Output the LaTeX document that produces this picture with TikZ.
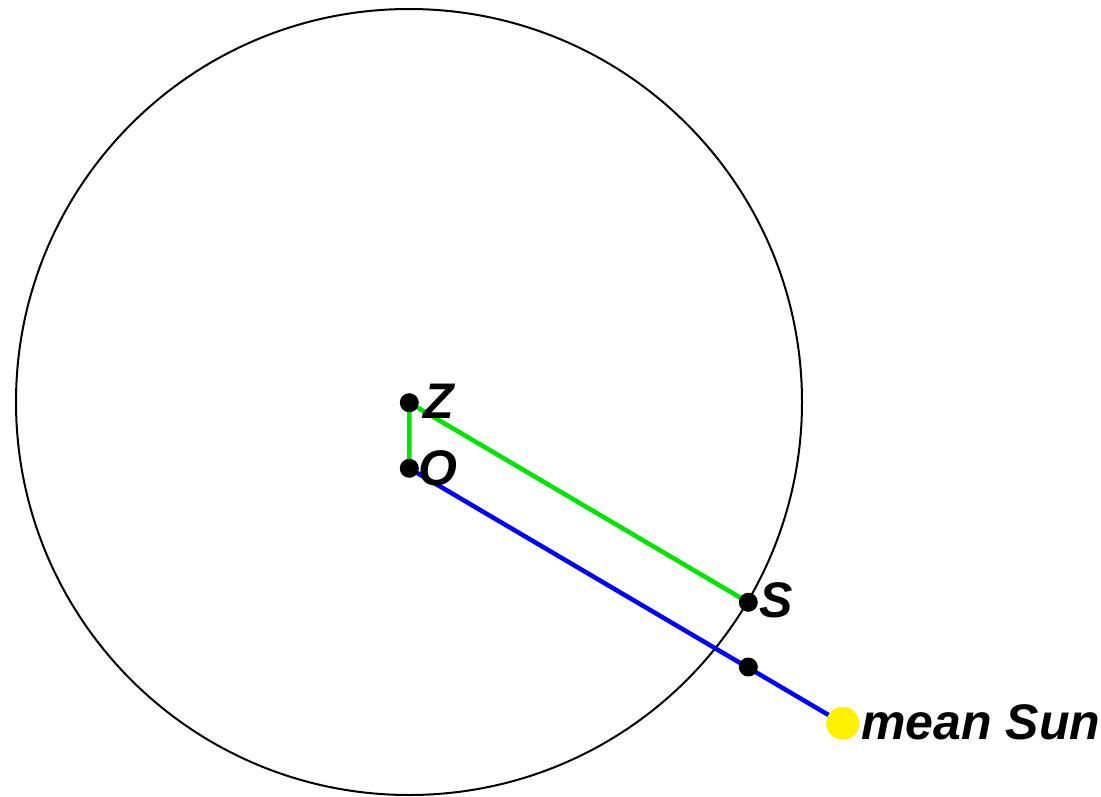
\documentclass[tikz,border=0pt]{standalone}
\usepackage{fontspec}
\setmainfont{Liberation Sans}
\begin{document}
\begin{tikzpicture}[x=1pt,y=-1pt,
  dot/.style={circle,fill=black,inner sep=0pt,minimum size=19pt},
  sundot/.style={circle,fill=yellow,inner sep=0pt,minimum size=33pt},
  lbl/.style={anchor=west,inner sep=0pt,font=\fontsize{50}{50}\selectfont\bfseries\itshape},
  greenline/.style={draw={rgb,255:red,0;green,230;blue,0},line width=4.5pt},
  blueline/.style={draw={rgb,255:red,0;green,0;blue,255},line width=4.5pt}]
\useasboundingbox (0,0) rectangle (1101,796);
\draw[line width=2pt] (409,402) circle (393);
\coordinate (cZ) at (409.3,402.7);
\coordinate (cO) at (409.3,468.3);
\coordinate (cS) at (748.3,602.3);
\coordinate (cM) at (748.3,667);
\coordinate (cSun) at (842.7,723.3);
\draw[greenline] (cO) -- (cZ) -- (cS);
\draw[blueline] (cO) -- (cSun);
\node[dot] (Z) at (cZ) {};
\node[dot] (O) at (cO) {};
\node[dot] (S) at (cS) {};
\node[dot] (M) at (cM) {};
\node[sundot] (Sun) at (cSun) {};
\node[lbl] (Zl) at (423,401) {Z};
\node[lbl] (Ol) at (418,468) {O};
\node[lbl] (Sl) at (759,600) {S};
\node[lbl] (Sunl) at (861,722) {mean Sun};
\end{tikzpicture}
\end{document}
